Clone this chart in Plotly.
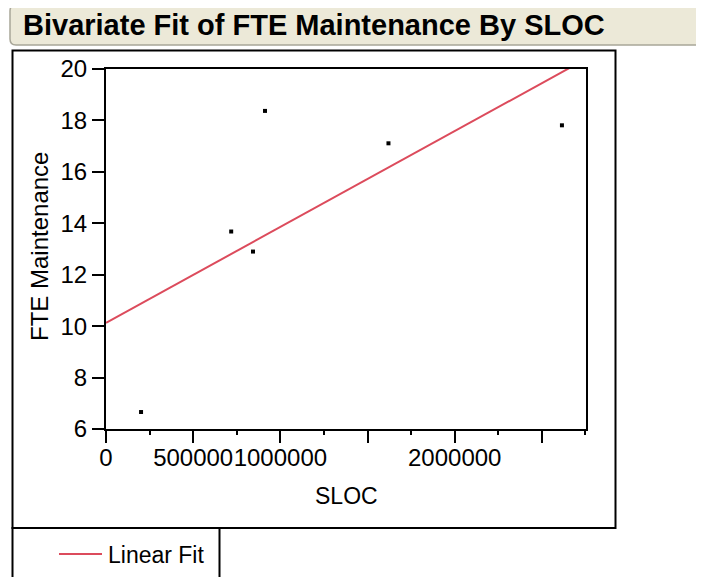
import numpy as np
import plotly.graph_objects as go

# Data
sloc = [201000, 718000, 843000, 912000, 1620000, 2615000]
fte_maintenance = [6.66, 13.68, 12.90, 18.37, 17.11, 17.81]
x_tick_values = [0, 500000, 1000000, 1500000, 2000000, 2500000]
x_tick_labels = ["0", "500000", "1000000", "", "2000000", ""]
y_tick_values = [6, 8, 10, 12, 14, 16, 18, 20]

X_RANGE = [0, 2753000]
Y_RANGE = [6, 20]

# Linear fit computed from the data
slope, intercept = np.polyfit(sloc, fte_maintenance, 1)
fit_x = np.array(X_RANGE, dtype=float)
fit_y = intercept + slope * fit_x

OFF = 8  # page body margin
W, H = 704, 577
L, R, T, B = 106 - OFF, 586 - OFF, 69 - OFF, 429 - OFF  # plot area in figure pixels


def px(x):
    return (x - OFF - L) / (R - L)


def py(y):
    return (B - (y - OFF)) / (B - T)


FONT = "Liberation Sans, Arial, sans-serif"
RED = "#DC4B5C"

fig = go.Figure()
fig.add_trace(go.Scatter(
    x=fit_x, y=fit_y, mode="lines", name="Linear Fit",
    line=dict(color=RED, width=2), showlegend=False,
))
fig.add_trace(go.Scatter(
    x=sloc, y=fte_maintenance, mode="markers", showlegend=False,
    marker=dict(symbol="square", size=4, color="black"),
))

shapes = []
# title banner (rounded)
x0, x1, y0, y1, r = px(10), px(730), py(5), py(45), 6
rx, ry = r / (R - L), r / (B - T)
path = (f"M {x0+rx},{y0} L {x1},{y0} L {x1},{y1} L {x0+rx},{y1} "
        f"Q {x0},{y1} {x0},{y1+ry} L {x0},{y0-ry} Q {x0},{y0} {x0+rx},{y0} Z")
shapes.append(dict(type="path", xref="paper", yref="paper", path=path,
                   fillcolor="#ECE9D8", line=dict(color="#A8A698", width=1.5),
                   layer="below"))
# outer frame
shapes.append(dict(type="rect", xref="paper", yref="paper",
                   x0=px(12.5), x1=px(615.5), y0=py(50.5), y1=py(528),
                   line=dict(color="black", width=2), layer="below"))
# legend box
shapes.append(dict(type="path", xref="paper", yref="paper",
                   path=f"M {px(12.5)},{py(590)} L {px(12.5)},{py(528)} L {px(219.5)},{py(528)} L {px(219.5)},{py(590)}",
                   line=dict(color="black", width=2), layer="below"))
# legend line sample
shapes.append(dict(type="line", xref="paper", yref="paper",
                   x0=px(59), x1=px(102), y0=py(554), y1=py(554),
                   line=dict(color=RED, width=2)))

fig.update_layout(
    width=W, height=H,
    margin=dict(l=L, r=W - R, t=T, b=H - B, pad=0),
    paper_bgcolor="white", plot_bgcolor="white",
    font=dict(family=FONT, size=24, color="black"),
    shapes=shapes,
    showlegend=False,
    annotations=[
        dict(text="<b>Bivariate Fit of FTE Maintenance By SLOC</b>",
             xref="paper", yref="paper", x=px(21), y=py(25),
             xanchor="left", yanchor="middle", showarrow=False,
             font=dict(family=FONT, size=29, color="black")),
        dict(text="Linear Fit",
             xref="paper", yref="paper", x=px(106), y=py(555),
             xanchor="left", yanchor="middle", showarrow=False,
             font=dict(family=FONT, size=23, color="black")),
        dict(text="SLOC",
             xref="paper", yref="paper", x=px(346), y=py(496),
             xanchor="center", yanchor="middle", showarrow=False,
             font=dict(family=FONT, size=23, color="black")),
        dict(text="FTE Maintenance", textangle=-90,
             xref="paper", yref="paper", x=px(39), y=py(247),
             xanchor="center", yanchor="middle", showarrow=False,
             font=dict(family=FONT, size=24, color="black")),
    ],
    xaxis=dict(
        range=X_RANGE, tickvals=x_tick_values, ticktext=x_tick_labels,
        tickangle=0, ticklabelstandoff=-6,
        ticks="outside", ticklen=12, tickwidth=2, tickcolor="black",
        minor=dict(dtick=250000, tick0=0, ticks="outside", ticklen=4,
                   tickwidth=2, tickcolor="black"),
        showline=True, linewidth=2, linecolor="black", mirror=True,
        showgrid=False, zeroline=False,
        tickfont=dict(size=24),
    ),
    yaxis=dict(
        range=Y_RANGE, tickvals=y_tick_values, tickangle=0,
        ticks="outside", ticklen=12, tickwidth=2, tickcolor="black",
        showline=True, linewidth=2, linecolor="black", mirror=True,
        showgrid=False, zeroline=False,
        tickfont=dict(size=24),
    ),
)

fig.write_html("out.html")
